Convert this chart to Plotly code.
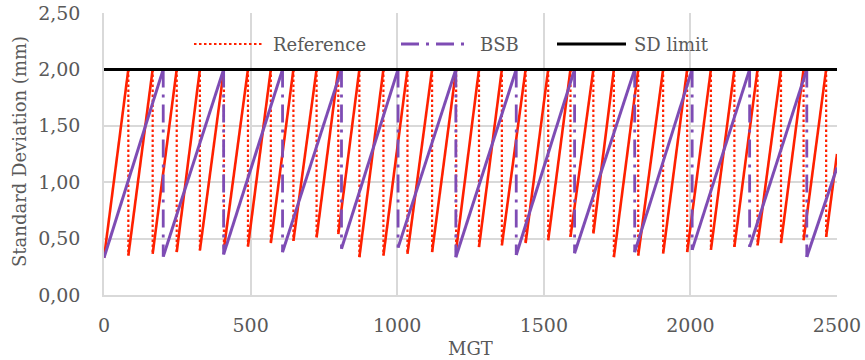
import plotly.graph_objects as go

# ---------------- data ----------------
x_range = [0, 2500]
y_range = [0, 2.5]
x_ticks = [0, 500, 1000, 1500, 2000, 2500]
y_ticks = [0.0, 0.5, 1.0, 1.5, 2.0, 2.5]

sd_limit = 2.0

# Reference: MGT at which SD reaches the limit and is restored, SD right after restoration
ref_start_sd = 0.33
ref_reset_mgt = [83, 166, 248, 327, 409, 491, 569, 646, 725, 799,
                 871, 953, 1035, 1119, 1201, 1279, 1357, 1438, 1515, 1591, 1669,
                 1739, 1822, 1907, 1989, 2070, 2150, 2229, 2309, 2386, 2463]
ref_min_sd = [0.35, 0.365, 0.38, 0.395, 0.41, 0.43, 0.46, 0.48, 0.51, 0.54,
              0.335, 0.35, 0.365, 0.38, 0.40, 0.425, 0.44, 0.46, 0.485, 0.515, 0.545,
              0.335, 0.35, 0.367, 0.38, 0.40, 0.426, 0.44, 0.46, 0.486, 0.515]
ref_end_sd = 1.25

# BSB
bsb_start_sd = 0.33
bsb_reset_mgt = [202, 408, 609, 810, 1003, 1200, 1406, 1605, 1810, 2006, 2202, 2397]
bsb_min_sd = [0.34, 0.36, 0.38, 0.41, 0.42, 0.335, 0.355, 0.37, 0.38, 0.40, 0.425, 0.337]
bsb_end_sd = 1.13

series_names = ["Reference", "BSB", "SD limit"]
x_title = "MGT"
y_title = "Standard Deviation (mm)"

RED = "#ff2000"
PURPLE = "#7e4cb4"
BLACK = "#000000"
GRID = "#d9d9d9"
TXT = "#595959"
FONT = "DejaVu Serif"


def saw(start, resets, mins, end, limit, x_end):
    rx, ry, dx, dy = [], [], [], []
    px, py = x_range[0], start
    for xm, m in zip(resets, mins):
        rx += [px, xm, None]
        ry += [py, limit, None]
        dx += [xm, xm, None]
        dy += [limit, m, None]
        px, py = xm, m
    rx += [px, x_end]
    ry += [py, end]
    return rx, ry, dx, dy


fig = go.Figure()

r_rx, r_ry, r_dx, r_dy = saw(ref_start_sd, ref_reset_mgt, ref_min_sd, ref_end_sd, sd_limit, x_range[1])
b_rx, b_ry, b_dx, b_dy = saw(bsb_start_sd, bsb_reset_mgt, bsb_min_sd, bsb_end_sd, sd_limit, x_range[1])

RED_DASH = "2.5px,2.5px"
PURPLE_DASH = "18px,7px,3px,7px"

fig.add_trace(go.Scatter(x=r_dx, y=r_dy, mode="lines", showlegend=False, hoverinfo="skip",
                         line=dict(color=RED, width=2.2, dash=RED_DASH)))
fig.add_trace(go.Scatter(x=r_rx, y=r_ry, mode="lines", name=series_names[0], showlegend=False,
                         line=dict(color=RED, width=2.6)))
fig.add_trace(go.Scatter(x=b_dx, y=b_dy, mode="lines", showlegend=False, hoverinfo="skip",
                         line=dict(color=PURPLE, width=2.8, dash=PURPLE_DASH)))
fig.add_trace(go.Scatter(x=b_rx, y=b_ry, mode="lines", name=series_names[1], showlegend=False,
                         line=dict(color=PURPLE, width=3)))
fig.add_trace(go.Scatter(x=x_range, y=[sd_limit, sd_limit], mode="lines", name=series_names[2],
                         showlegend=False, line=dict(color=BLACK, width=3)))

W, H = 865, 360
L, R, T, B = 104, 837, 13, 295


def px2paper_x(p):
    return (p - L) / (R - L)


def px2paper_y(p):
    return (B - p) / (B - T)


ly = px2paper_y(44)
legend_items = [
    (194, 262, 271, series_names[0], RED, 2.2, RED_DASH),
    (401, 464, 478, series_names[1], PURPLE, 2.8, PURPLE_DASH),
    (557, 626, 632, series_names[2], BLACK, 3, "solid"),
]
for x0, x1, xt, name, col, w, dash in legend_items:
    fig.add_shape(type="line", xref="paper", yref="paper",
                  x0=px2paper_x(x0), x1=px2paper_x(x1), y0=ly, y1=ly,
                  line=dict(color=col, width=w, dash=dash))
    fig.add_annotation(xref="paper", yref="paper", x=px2paper_x(xt), y=ly,
                       text=name, showarrow=False, xanchor="left", yanchor="middle",
                       font=dict(family=FONT, size=18, color=TXT))

# axis titles
fig.add_annotation(xref="paper", yref="paper", x=px2paper_x(470), y=px2paper_y(348),
                   text=x_title, showarrow=False, xanchor="center", yanchor="middle",
                   font=dict(family=FONT, size=18, color=TXT))
fig.add_annotation(xref="paper", yref="paper", x=px2paper_x(19), y=px2paper_y(152),
                   text=y_title, showarrow=False, xanchor="center", yanchor="middle",
                   textangle=-90, font=dict(family=FONT, size=18, color=TXT))

fig.update_layout(
    width=W, height=H,
    margin=dict(l=L, r=W - R, t=T, b=H - B),
    paper_bgcolor="white", plot_bgcolor="white",
    separators=", ",
    font=dict(family=FONT, size=18, color=TXT),
    showlegend=False,
)
fig.update_xaxes(range=x_range, tickvals=x_ticks, showgrid=True, gridcolor=GRID, gridwidth=1.5,
                 zeroline=False, showline=True, linecolor=GRID, linewidth=1.5,
                 ticks="", ticklabelstandoff=12, automargin=False, ticklabeloverflow="allow",
                 tickfont=dict(family=FONT, size=19, color=TXT))
fig.update_yaxes(range=y_range, tickvals=y_ticks, tickformat=".2f", showgrid=True, gridcolor=GRID,
                 gridwidth=1.5, zeroline=False, showline=True, linecolor=GRID, linewidth=1.5,
                 ticks="", ticklabelstandoff=18, automargin=False, ticklabeloverflow="allow",
                 tickfont=dict(family=FONT, size=19, color=TXT))

fig.write_html("out.html", config={"displayModeBar": False},
               post_script="document.body.style.margin='0';")
